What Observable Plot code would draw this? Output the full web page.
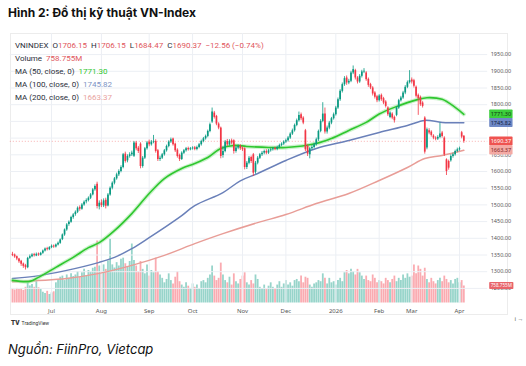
<!DOCTYPE html>
<html><head><meta charset="utf-8">
<script src="https://cdn.jsdelivr.net/npm/d3@7"></script>
<script src="https://cdn.jsdelivr.net/npm/@observablehq/plot@0.6"></script>
<style>
body{margin:0;background:#fff;width:526px;height:366px;overflow:hidden;position:relative;font-family:Inter,"Open Sans",sans-serif;}
#title{position:absolute;left:8px;top:5px;font-size:12px;font-weight:700;color:#111;white-space:nowrap;}
#frame{position:absolute;left:10px;top:33px;width:498px;height:282px;border:1px solid #ececec;box-sizing:border-box;}
#chart{position:absolute;left:0;top:33px;width:526px;height:290px;}
#chart svg{position:absolute;left:0;top:0;}
#legend{position:absolute;left:15px;top:38.5px;font-family:Roboto,"Liberation Sans",sans-serif;font-size:8px;line-height:13px;color:#2a2e39;white-space:nowrap;}
#tv{position:absolute;left:11px;top:319px;font-family:Roboto,sans-serif;font-size:5px;color:#333;white-space:nowrap;}
#tv b{font-size:6.5px;font-weight:900;margin-right:1px;}
#caption{position:absolute;left:8px;top:341px;font-size:13px;font-style:italic;color:#111;white-space:nowrap;}
</style></head>
<body>
<div id="title">Hình 2: Đồ thị kỹ thuật VN-Index</div>
<div id="frame"></div>
<div id="chart"></div>
<div id="legend"></div>
<div id="tv"><b>TV</b> TradingView</div>
<div id="caption">Nguồn: FiinPro, Vietcap</div>
<script>
// ---- data (trading-day index 0..208, Jun 2025 – Apr 2026) ----
const open = [1352,1350,1345,1338,1331,1323,1318,1312,1340,1345,1351,1347,1353,1349,1355,1362,1369,1366,1372,1377,
1374,1380,1385,1396,1410,1425,1441,1448,1462,1471,1478,1492,1487,1500,1509,1513,1520,1530,1545,1562,
1494,1506,1497,1514,1497,1530,1550,1565,1578,1590,1600,1612,1652,1632,1645,1650,1646,1685,1670,1682,
1615,1640,1668,1688,1680,1688,1690,1662,1636,1640,1650,1662,1675,1688,1697,1682,1664,1648,1636,1655,
1662,1669,1665,1668,1671,1666,1672,1680,1690,1698,1705,1720,1748,1775,1765,1742,1730,1648,1660,1690,
1680,1692,1692,1660,1670,1676,1670,1668,1612,1625,1642,1650,1598,1625,1640,1650,1655,1660,1655,1662,
1665,1669,1666,1672,1678,1682,1688,1692,1700,1712,1722,1738,1752,1770,1760,1722,1675,1650,1668,1672,
1680,1695,1720,1750,1772,1718,1730,1745,1758,1770,1790,1815,1840,1860,1880,1865,1870,1895,1902,1880,
1868,1885,1898,1895,1876,1860,1850,1835,1824,1812,1828,1818,1808,1790,1762,1772,1762,1768,1790,1812,
1820,1835,1852,1866,1874,1872,1852,1828,1822,1805,1760,1670,1722,1718,1706,1700,1697,1702,1715,1700,
1635,1630,1632,1645,1650,1660,1665,1716,1706.15];
const high = [1358,1353,1347,1340,1334,1326,1322,1343,1350,1354,1355,1356,1356,1358,1365,1371,1373,1375,1380,1380,
1383,1389,1398,1413,1428,1444,1452,1466,1474,1482,1494,1497,1504,1512,1518,1524,1534,1549,1560,1568,
1512,1515,1518,1520,1534,1554,1569,1582,1595,1605,1617,1654,1658,1650,1656,1661,1690,1690,1675,1686,
1645,1672,1690,1694,1693,1708,1695,1666,1646,1654,1666,1679,1692,1700,1700,1685,1668,1652,1659,1666,
1672,1673,1672,1674,1675,1676,1684,1694,1702,1709,1724,1745,1790,1780,1768,1746,1733,1675,1693,1696,
1695,1697,1695,1675,1680,1680,1674,1671,1630,1645,1646,1654,1630,1645,1654,1660,1664,1665,1666,1669,
1672,1673,1676,1682,1686,1692,1697,1705,1716,1727,1742,1757,1778,1775,1764,1726,1680,1672,1678,1685,
1700,1724,1755,1806,1790,1736,1750,1762,1775,1795,1820,1845,1865,1884,1886,1876,1900,1916,1906,1884,
1890,1903,1908,1899,1880,1864,1854,1839,1828,1830,1832,1822,1812,1794,1779,1776,1766,1794,1816,1825,
1840,1857,1871,1902,1880,1876,1856,1832,1826,1809,1764,1730,1728,1722,1710,1704,1707,1745,1720,1704,
1638,1634,1650,1655,1664,1670,1673,1720,1706.15];
const low = [1345,1340,1333,1325,1316,1310,1305,1309,1337,1342,1344,1345,1346,1347,1352,1359,1362,1363,1369,1370,
1371,1377,1382,1393,1406,1421,1436,1445,1457,1466,1474,1481,1484,1496,1503,1509,1516,1527,1541,1488,
1485,1492,1492,1488,1494,1526,1545,1560,1574,1585,1596,1608,1625,1626,1640,1645,1642,1662,1654,1608,
1610,1636,1664,1674,1676,1683,1655,1630,1630,1636,1646,1658,1671,1684,1676,1657,1640,1630,1633,1651,
1658,1661,1662,1664,1662,1662,1668,1676,1686,1694,1701,1716,1744,1757,1737,1725,1638,1640,1656,1675,
1676,1680,1652,1655,1665,1663,1660,1605,1606,1620,1624,1585,1592,1620,1636,1645,1650,1650,1651,1658,
1661,1662,1662,1668,1674,1678,1684,1688,1696,1708,1718,1734,1748,1752,1740,1660,1645,1638,1664,1668,
1676,1690,1716,1746,1712,1712,1725,1740,1754,1766,1786,1810,1835,1855,1858,1860,1866,1890,1874,1862,
1864,1880,1893,1870,1852,1845,1826,1817,1806,1808,1810,1800,1790,1765,1758,1755,1745,1764,1786,1808,
1816,1830,1848,1862,1862,1850,1820,1768,1795,1790,1652,1665,1710,1703,1695,1692,1693,1698,1700,1645,
1588,1604,1628,1640,1646,1656,1661,1698,1684.47];
const close = [1349,1344,1338,1330,1322,1316,1312,1340,1345,1350,1348,1352,1350,1355,1362,1368,1366,1372,1376,1374,
1380,1385,1395,1410,1425,1440,1448,1462,1470,1478,1490,1487,1500,1508,1513,1520,1530,1545,1555,1495,
1505,1498,1512,1496,1530,1550,1565,1578,1590,1600,1612,1650,1630,1645,1650,1655,1685,1668,1660,1615,
1640,1668,1685,1680,1688,1690,1660,1636,1640,1650,1662,1675,1688,1695,1680,1662,1645,1636,1655,1662,
1668,1665,1668,1670,1666,1672,1680,1690,1698,1705,1720,1740,1778,1762,1742,1730,1645,1660,1688,1680,
1690,1685,1660,1670,1675,1668,1665,1612,1625,1640,1630,1595,1625,1640,1650,1655,1660,1655,1662,1665,
1668,1666,1672,1678,1682,1688,1692,1700,1712,1722,1738,1752,1768,1758,1745,1665,1652,1668,1672,1680,
1695,1720,1750,1772,1718,1730,1745,1758,1770,1790,1815,1840,1860,1878,1865,1870,1895,1905,1880,1868,
1885,1898,1900,1875,1858,1850,1832,1822,1812,1826,1815,1805,1795,1770,1775,1760,1752,1790,1812,1820,
1835,1852,1866,1872,1868,1855,1825,1818,1800,1795,1658,1725,1715,1708,1700,1697,1702,1712,1705,1650,
1600,1610,1645,1650,1660,1665,1668,1702.93,1690.37];
const volume = [620,580,650,600,640,560,700, 880,760,820,700,950,680,600, 480,420,520,380,450,500,
900,1050,1150,1200,1000,1250,1100,1300,1180, 1250,1400,1150,1350,1500,1200,1450,1380,1550,1600, 2770,
1650,1300,1700,1500,1870, 2850, 1700,1560,1800,1650,1950,2000,1750,1600,1850, 2630,
1900,1650,1400,1850,1500,1300,1700,1200,1450,1350, 2000,
1400,1250,1100,900,1050,1300,1000,850,1150,1400,950,800,700,900,750,650,850,
700,800,650,950,1000,900,1100,1250, 1650, 1200,1000,1100, 1780,
1250,1000,900,1150,800,1300,950,850,1050, 1200,1350,
900,800,1000,850,1250,1050,700,650,800,600,750,900,700,650,800,950,700,850,1000,
800,900,750,1000,1050,950,1200,900,1150,1100,800,700,850,900,1000,950,1300,1100,850,
1100,900,950,800,1000,1100,950, 1350,1450,1300,1500,1400,1250,1500,1350,1200,
1050,1200,1000,950,1250,1100,900,1000, 950,850,1100,1000,900,1050,1200,950,1100,
1000,1250,1100,1300,1150,1200, 1700,1300,1650,1500,1200,1550,
1050,900,1100,950,850,1000,1100,950, 1200,1050,900,1000,850,1050,1100,900,1000,758.755];

const ma50Idx = [0,8,12,20,28,35,40,47,55,63,70,78,84,90,96,102,108,118,126,140,147,155,163,169,176,187,191,198,204,208];
const ma50 = [1274,1271,1283,1313,1343,1372,1387,1423,1474,1534,1579,1609,1624,1642,1669,1678,1675,1672,1672,1684,1699,1723,1747,1772,1792,1816,1821,1816,1792,1771.30];
const ma100Idx = [0,10,25,40,47,55,63,70,78,84,97,105,113,126,140,155,169,182,190,198,208];
const ma100 = [1280,1286,1304,1328,1343,1369,1402,1432,1468,1498,1537,1572,1594,1633,1669,1693,1717,1738,1753,1747,1745.82];
const ma200Idx = [0,25,40,55,70,84,97,113,126,140,155,169,182,190,198,208];
const ma200 = [1270,1280,1295,1319,1349,1384,1414,1447,1471,1504,1534,1573,1612,1639,1648,1663.37];

const monthIdx = [18,41,63,83,106,126,149,169,184,206];
const monthLabels = ["Jul","Aug","Sep","Oct","Nov","Dec","2026","Feb","Mar","Apr"];
const priceTicks = [1250,1300,1350,1400,1450,1500,1550,1600,1650,1700,1750,1800,1850,1900,1950];

// ---- build ----
const UP = "#089981", DOWN = "#f23645";
const C50 = "#2fc72f", C100 = "#6a80b9", C200 = "#e89d97";
const N = close.length;
const rows = d3.range(N).map(i => ({i, o: open[i], h: high[i], l: low[i], c: close[i], v: volume[i]}));
const mk = (idx, vals) => idx.map((i, k) => ({i, v: vals[k]}));
const m50 = mk(ma50Idx, ma50), m100 = mk(ma100Idx, ma100), m200 = mk(ma200Idx, ma200);
const last = rows[N - 1], prev = rows[N - 2];
const W = 526, H = 290, xDomain = [-1, 219];
const common = {width: W, height: H, marginLeft: 9.8, marginRight: 38.8, marginTop: 0, marginBottom: 20,
  style: {background: "transparent", overflow: "visible"}};
const volY = {domain: [0, 3000], range: [269.5, 269.5 - 3000 / 44.6], axis: null};

const vol = Plot.plot({...common,
  x: {domain: xDomain, axis: null}, y: volY,
  marks: [
    Plot.ruleX(rows, {x: "i", y1: 0, y2: "v", stroke: d => d.c >= d.o ? UP : DOWN, strokeOpacity: 0.42, strokeWidth: 1.8})
  ]
});

const priceLabels = [
  {v: ma50[ma50.length - 1], bg: "#3ccf3c", fg: "#113311"},
  {v: ma100[ma100.length - 1], bg: "#6f89c6", fg: "#102040"},
  {v: last.c, bg: "#ef5350", fg: "#ffffff"},
  {v: ma200[ma200.length - 1], bg: "#f4aaa4", fg: "#7a1f1f"}
];
// the 1700 tick label sits fully under the last-price box in the reference
const shownTicks = priceTicks.filter(t => Math.abs(t - last.c) > 12);

const price = Plot.plot({...common,
  x: {domain: xDomain, axis: null},
  y: {domain: [1250, 1950], range: [254.9, 21.1], axis: null},
  marks: [
    Plot.gridY(priceTicks, {stroke: "#eceff4", strokeOpacity: 1}),
    Plot.gridX(monthIdx, {stroke: "#eceff4", strokeOpacity: 1}),
    Plot.axisY(shownTicks, {anchor: "right", tickSize: 0, tickPadding: 3, textAnchor: "start",
      tickFormat: d => d.toFixed(2), fontSize: 5.5, color: "#555"}),
    Plot.axisX(monthIdx, {anchor: "bottom", tickSize: 0, tickPadding: 5,
      tickFormat: d => monthLabels[monthIdx.indexOf(d)], fontSize: 6, color: "#555"}),
    Plot.ruleY([last.c], {stroke: "#ef5350", strokeOpacity: 0.45, strokeDasharray: "1,2"}),
    Plot.line(m200, {x: "i", y: "v", stroke: C200, strokeWidth: 1.5, curve: "catmull-rom"}),
    Plot.line(m100, {x: "i", y: "v", stroke: C100, strokeWidth: 1.5, curve: "catmull-rom"}),
    Plot.line(m50, {x: "i", y: "v", stroke: "#8be38b", strokeWidth: 4, strokeOpacity: 0.45, curve: "catmull-rom"}),
    Plot.line(m50, {x: "i", y: "v", stroke: C50, strokeWidth: 1.6, curve: "catmull-rom"}),
    Plot.ruleX(rows, {x: "i", y1: "l", y2: "h", stroke: d => d.c >= d.o ? UP : DOWN, strokeWidth: 0.8}),
    Plot.ruleX(rows, {x: "i", y1: "o", y2: "c", stroke: d => d.c >= d.o ? UP : DOWN, strokeWidth: 1.7}),
    Plot.text(priceLabels, {y: "v", text: d => d.v.toFixed(2), frameAnchor: "right", textAnchor: "start", dx: 3,
      fill: d => d.fg, fontSize: 5.5})
  ]
});

// volume label on its own top layer, same volume scale
const volLab = Plot.plot({...common,
  x: {domain: xDomain, axis: null}, y: volY,
  marks: [
    Plot.text([last], {y: "v", text: d => d.v.toFixed(3) + "M", frameAnchor: "right", textAnchor: "start", dx: 3,
      fill: "#ffffff", fontSize: 4.6})
  ]
});

const chart = document.getElementById("chart");
chart.appendChild(vol);
chart.appendChild(price);
chart.appendChild(volLab);

function boxes(svg, bgs) {
  svg.querySelectorAll('g[aria-label="text"] text').forEach((t, k) => {
    const b = t.getBBox();
    const r = document.createElementNS("http://www.w3.org/2000/svg", "rect");
    r.setAttribute("x", b.x - 1.5); r.setAttribute("y", b.y - 0.5);
    r.setAttribute("width", b.width + 3); r.setAttribute("height", b.height + 1);
    r.setAttribute("rx", 0.8);
    const tr = t.getAttribute("transform");
    if (tr) r.setAttribute("transform", tr);
    r.setAttribute("fill", bgs[k % bgs.length]);
    t.parentNode.insertBefore(r, t);
  });
}
boxes(price, priceLabels.map(d => d.bg));
boxes(volLab, ["#e8646a"]);

// legend
const chg = last.c - prev.c, pct = chg / prev.c * 100;
const red = "#e0565b";
const f2 = v => v.toFixed(2);
const s = (t, c) => `<span style="color:${c}">${t}</span>`;
const neg = v => (v < 0 ? "\u2212" : "+") + Math.abs(v).toFixed(2);
document.getElementById("legend").innerHTML =
  `<div>VNINDEX&nbsp; O${s(f2(last.o), red)}&nbsp; H${s(f2(last.h), red)}&nbsp; L${s(f2(last.l), red)}&nbsp; C${s(f2(last.c), red)}&nbsp; ${s(neg(chg) + " (" + neg(pct) + "%)", red)}</div>` +
  `<div>Volume&nbsp; ${s(last.v.toFixed(3) + "M", red)}</div>` +
  `<div>MA (50, close, 0)&nbsp; ${s(f2(ma50[ma50.length - 1]), "#2fc72f")}</div>` +
  `<div>MA (100, close, 0)&nbsp; ${s(f2(ma100[ma100.length - 1]), "#7d93c4")}</div>` +
  `<div>MA (200, close, 0)&nbsp; ${s(f2(ma200[ma200.length - 1]), "#e9a3a0")}</div>`;
</script>
</body></html>
